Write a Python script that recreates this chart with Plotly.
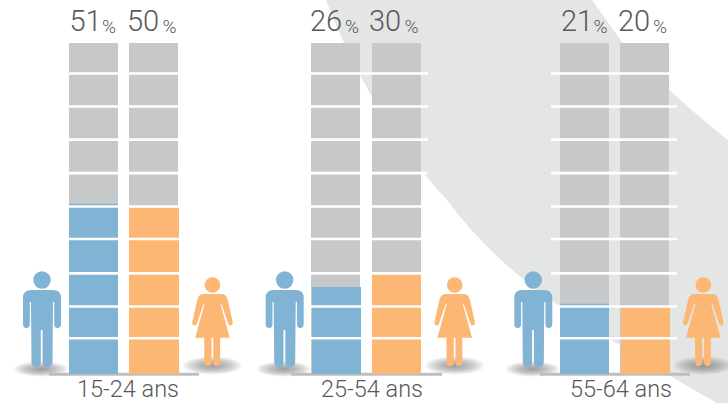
import plotly.graph_objects as go

# ---- data ----
age_groups = ["15-24 ans", "25-54 ans", "55-64 ans"]
men_labels = ["51", "26", "21"]
women_labels = ["50", "30", "20"]
men_pct = [51.4, 26.3, 21.2]
women_pct = [50.1, 29.9, 20.0]
full_scale = [100, 100, 100]
separator_levels = [10.8, 20.4, 30.4, 40.8, 50.6, 60.7, 70.8, 80.8, 90.8]

# ---- layout constants (pixels of the 728x403 canvas) ----
W, H = 728, 403
BASE_PX, TOP_PX = 374, 43
PX_PER_PCT = (BASE_PX - TOP_PX) / 100.0
def v(py):
    return (BASE_PX - py) / PX_PER_PCT

BLUE, ORANGE, GREY = "#80b3d4", "#fdb774", "#c7c8ca"
SWOOSH, TXT = "#e4e6e6", "#58595b"

men_gx = [(69, 118), (311, 360), (560, 609)]
men_cx = [(69, 118), (312, 361), (560, 609)]
wom_gx = [(129, 178), (372, 421), (620, 669)]
wom_cx = [(129, 179), (372, 421), (621, 670)]
sep_span = [(69, 179), (311, 428), (551, 677)]
base_span = [(49, 199), (291, 442), (540, 690)]
man_x = [42, 284.7, 533.3]
woman_x = [212.5, 454.7, 703.3]
label_x = [128, 372, 621]
num_m_left = [69.5, 310, 561]
num_w_left = [127, 369, 618]
pct_m_left = [102, 345, 593.5]
pct_w_left = [162.5, 404.5, 653]

fig = go.Figure()

def bars(spans, vals, color):
    fig.add_trace(go.Bar(
        x=[(a + b) / 2 for a, b in spans], y=vals,
        width=[b - a for a, b in spans],
        marker=dict(color=color, line=dict(width=0)),
        hoverinfo="skip", showlegend=False))

bars(men_gx, full_scale, GREY)
bars(wom_gx, full_scale, GREY)
bars(men_cx, men_pct, BLUE)
bars(wom_cx, women_pct, ORANGE)

# separators across each group
sx, sy = [], []
for a, b in sep_span:
    for lv in separator_levels:
        sx += [a, b, None]
        sy += [lv, lv, None]
fig.add_trace(go.Scatter(x=sx, y=sy, mode="lines", line=dict(color="#ffffff", width=2.6),
                         hoverinfo="skip", showlegend=False))

# value labels
num_x, num_t, pct_x = [], [], []
for i in range(3):
    num_x += [num_m_left[i], num_w_left[i]]
    num_t += [men_labels[i], women_labels[i]]
    pct_x += [pct_m_left[i], pct_w_left[i]]
fig.add_trace(go.Scatter(
    x=num_x, y=[v(24)] * 6, mode="text", text=num_t, textposition="middle right",
    textfont=dict(family="Roboto", size=29, color=TXT, weight=300),
    hoverinfo="skip", showlegend=False, cliponaxis=False))
fig.add_trace(go.Scatter(
    x=pct_x, y=[v(28.5)] * 6, mode="text", text=["%"] * 6, textposition="middle right",
    textfont=dict(family="Roboto", size=19, color=TXT, weight=300),
    hoverinfo="skip", showlegend=False, cliponaxis=False))

# age labels
fig.add_trace(go.Scatter(
    x=label_x, y=[v(391.5)] * 3, mode="text", text=age_groups, textposition="middle center",
    textfont=dict(family="Roboto", size=23.5, color=TXT, weight=300),
    hoverinfo="skip", showlegend=False, cliponaxis=False))

shapes = []

def path_smooth(segs):
    out = []
    for s in segs:
        cmd, pts = s[0], s[1:]
        out.append(cmd + " ".join(f"{x:.2f},{v(y):.3f}" for x, y in pts))
    return " ".join(out) + " Z"

# background swoosh
swoosh = [("M", (326, 0)), ("L", (592, 0)), ("L", (622, 42)), ("Q", (665, 90), (728, 140)),
          ("L", (728, 403)), ("L", (717, 403)), ("Q", (640, 360), (555, 303)),
          ("Q", (490, 258), (447, 200)), ("Q", (405, 155), (372, 97)), ("Q", (345, 50), (326, 0))]
shapes.append(dict(type="path", path=path_smooth(swoosh), fillcolor=SWOOSH, line=dict(width=0), layer="below"))

# ground shadows
def shadow(cx, cy, rx, ry):
    n = 14
    for k in range(n):
        f = 1 - k / n
        shapes.append(dict(type="circle", x0=cx - rx * f, x1=cx + rx * f,
                           y0=v(cy + ry * f), y1=v(cy - ry * f),
                           fillcolor="rgba(110,112,112,0.07)", line=dict(width=0), layer="below"))
for cx in man_x:
    shadow(cx - 1, 369, 27, 7.5)
for cx in woman_x:
    shadow(cx, 365.5, 29.5, 9)

# base lines
for a, b in base_span:
    shapes.append(dict(type="line", x0=a, x1=b, y0=v(374.3), y1=v(374.3),
                       line=dict(color="#bcbec0", width=3), layer="below"))

def man(cx):
    c = cx
    t = 290
    shapes.append(dict(type="circle", x0=c - 8.7, x1=c + 8.7, y0=v(280 + 8.7), y1=v(280 - 8.7),
                       fillcolor=BLUE, line=dict(width=0), layer="above"))
    segs = [("M", (c - 11, t)), ("Q", (c - 19, t), (c - 19, t + 8)),
            ("L", (c - 19, t + 34)), ("Q", (c - 19, t + 38), (c - 15.5, t + 38)),
            ("Q", (c - 12.2, t + 38), (c - 12.2, t + 34)), ("L", (c - 12.2, t + 12)),
            ("L", (c - 11, t + 12)), ("L", (c - 10.5, t + 72)),
            ("Q", (c - 10.5, t + 77), (c - 6, t + 77)), ("Q", (c - 1.2, t + 77), (c - 1.2, t + 72)),
            ("L", (c - 1.2, t + 40)), ("L", (c + 0.6, t + 40)), ("L", (c + 0.6, t + 72)),
            ("Q", (c + 0.6, t + 77), (c + 5.5, t + 77)), ("Q", (c + 10.5, t + 77), (c + 10.5, t + 72)),
            ("L", (c + 11, t + 12)), ("L", (c + 12.2, t + 12)), ("L", (c + 12.2, t + 34)),
            ("Q", (c + 12.2, t + 38), (c + 15.5, t + 38)), ("Q", (c + 19, t + 38), (c + 19, t + 34)),
            ("L", (c + 19, t + 8)), ("Q", (c + 19, t), (c + 11, t))]
    shapes.append(dict(type="path", path=path_smooth(segs), fillcolor=BLUE, line=dict(width=0), layer="above"))

def woman(cx):
    c = cx
    t = 294
    shapes.append(dict(type="circle", x0=c - 7.8, x1=c + 7.8, y0=v(285 + 7.8), y1=v(285 - 7.8),
                       fillcolor=ORANGE, line=dict(width=0), layer="above"))
    segs = [("M", (c - 9, t)), ("Q", (c - 13.5, t), (c - 15, t + 5)),
            ("L", (c - 20.2, t + 28)), ("Q", (c - 20.5, t + 31.5), (c - 18, t + 31.5)),
            ("Q", (c - 16, t + 31.5), (c - 15.5, t + 29)), ("L", (c - 9, t + 10)),
            ("L", (c - 8, t + 10)), ("L", (c - 17.3, t + 43.7)), ("L", (c - 8.2, t + 43.7)),
            ("L", (c - 8.2, t + 68)), ("Q", (c - 8.2, t + 72), (c - 4.8, t + 72)),
            ("Q", (c - 1, t + 72), (c - 1, t + 68)), ("L", (c - 1, t + 43.7)),
            ("L", (c + 0.8, t + 43.7)), ("L", (c + 0.8, t + 68)),
            ("Q", (c + 0.8, t + 72), (c + 4.3, t + 72)), ("Q", (c + 7.6, t + 72), (c + 7.6, t + 68)),
            ("L", (c + 7.6, t + 43.7)), ("L", (c + 17.3, t + 43.7)), ("L", (c + 8, t + 10)),
            ("L", (c + 9, t + 10)), ("L", (c + 15.5, t + 29)),
            ("Q", (c + 16, t + 31.5), (c + 18, t + 31.5)), ("Q", (c + 20.5, t + 31.5), (c + 20.2, t + 28)),
            ("L", (c + 15, t + 5)), ("Q", (c + 13.5, t), (c + 9, t))]
    shapes.append(dict(type="path", path=path_smooth(segs), fillcolor=ORANGE, line=dict(width=0), layer="above"))

for cx in man_x:
    man(cx)
for cx in woman_x:
    woman(cx)

fig.update_layout(
    width=W, height=H, autosize=False, margin=dict(l=0, r=0, t=0, b=0),
    paper_bgcolor="#ffffff", plot_bgcolor="rgba(0,0,0,0)",
    barmode="overlay", shapes=shapes, showlegend=False,
    xaxis=dict(range=[0, W], visible=False, fixedrange=True),
    yaxis=dict(range=[v(H), v(0)], visible=False, fixedrange=True),
)
fig.write_html("out.html", config={"displayModeBar": False},
               post_script="document.body.style.margin='0';document.documentElement.style.overflow='hidden';")
